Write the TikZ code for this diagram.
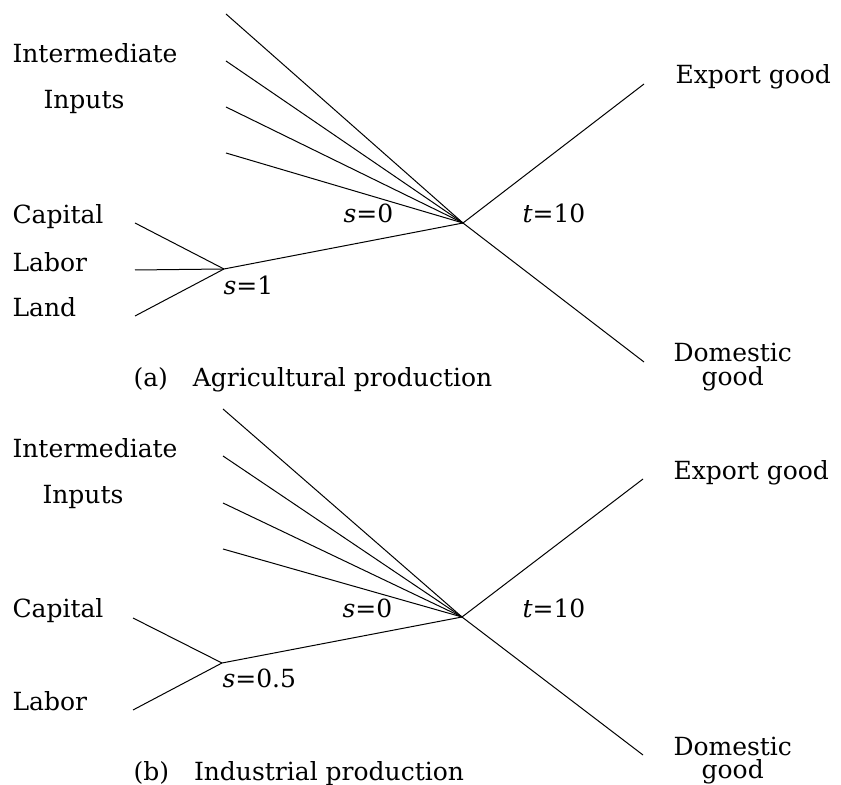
\documentclass[tikz,border=0pt]{standalone}
\usepackage{fontspec}
\setmainfont{DejaVu Serif}
\usepackage{tikz}
\usetikzlibrary{positioning}

\begin{document}
\begin{tikzpicture}[x=0.5pt,y=-0.5pt,line width=0.5pt,
    lbl/.style={anchor=base west,inner sep=0pt,font=\fontsize{12.5}{15}\selectfont},
    sub/.style={below=1.5pt of #1,inner sep=0pt,font=\fontsize{12.5}{15}\selectfont}]
  \useasboundingbox (0,0) rectangle (841,785);

  % (a) agricultural production
  \coordinate (hubA) at (463,223);
  \coordinate (nestA) at (224,269);
  \coordinate (i1A) at (226,14);
  \coordinate (i2A) at (226,61);
  \coordinate (i3A) at (226,107);
  \coordinate (i4A) at (226,153);
  \coordinate (capA) at (135,223);
  \coordinate (labA) at (135,270);
  \coordinate (lanA) at (135,316);
  \coordinate (expA) at (644,84);
  \coordinate (domA) at (644,362);

  \node[lbl] (intA) at (12,63) {Intermediate};
  \node[lbl] (inpA) at (43,109) {Inputs};
  \node[lbl] (capitalA) at (12,224) {Capital};
  \node[lbl] (laborA) at (12,272) {Labor};
  \node[lbl] (landA) at (12,317) {Land};
  \node[lbl] (s0A) at (343,223) {\textit{s}=0};
  \node[lbl] (s1A) at (223,295) {\textit{s}=1};
  \node[lbl] (tA) at (522,223) {\textit{t}=10};
  \node[lbl] (exportA) at (675,84) {Export good};
  \node[lbl] (domesticA) at (673,362) {Domestic};
  \node[sub=domesticA] (goodA) {good};
  \node[lbl] (captA) at (133,387) {(a)\quad Agricultural production};

  \draw (i1A) -- (hubA);
  \draw (i2A) -- (hubA);
  \draw (i3A) -- (hubA);
  \draw (i4A) -- (hubA);
  \draw (capA) -- (nestA);
  \draw (labA) -- (nestA);
  \draw (lanA) -- (nestA);
  \draw (nestA) -- (hubA);
  \draw (hubA) -- (expA);
  \draw (hubA) -- (domA);

  % (b) industrial production
  \coordinate (hubB) at (462,617);
  \coordinate (nestB) at (222,663);
  \coordinate (i1B) at (223,409);
  \coordinate (i2B) at (223,456);
  \coordinate (i3B) at (223,503);
  \coordinate (i4B) at (223,549);
  \coordinate (capB) at (133,618);
  \coordinate (labB) at (133,710);
  \coordinate (expB) at (643,479);
  \coordinate (domB) at (643,755);

  \node[lbl] (intB) at (12,458) {Intermediate};
  \node[lbl] (inpB) at (42,504) {Inputs};
  \node[lbl] (capitalB) at (12,618) {Capital};
  \node[lbl] (laborB) at (12,711) {Labor};
  \node[lbl] (s0B) at (342,618) {\textit{s}=0};
  \node[lbl] (s5B) at (222,688) {\textit{s}=0.5};
  \node[lbl] (tB) at (522,618) {\textit{t}=10};
  \node[lbl] (exportB) at (673,480) {Export good};
  \node[lbl] (domesticB) at (673,755) {Domestic};
  \node[sub=domesticB] (goodB) {good};
  \node[lbl] (captB) at (133,780) {(b)\quad Industrial production};

  \draw (i1B) -- (hubB);
  \draw (i2B) -- (hubB);
  \draw (i3B) -- (hubB);
  \draw (i4B) -- (hubB);
  \draw (capB) -- (nestB);
  \draw (labB) -- (nestB);
  \draw (nestB) -- (hubB);
  \draw (hubB) -- (expB);
  \draw (hubB) -- (domB);
\end{tikzpicture}
\end{document}
